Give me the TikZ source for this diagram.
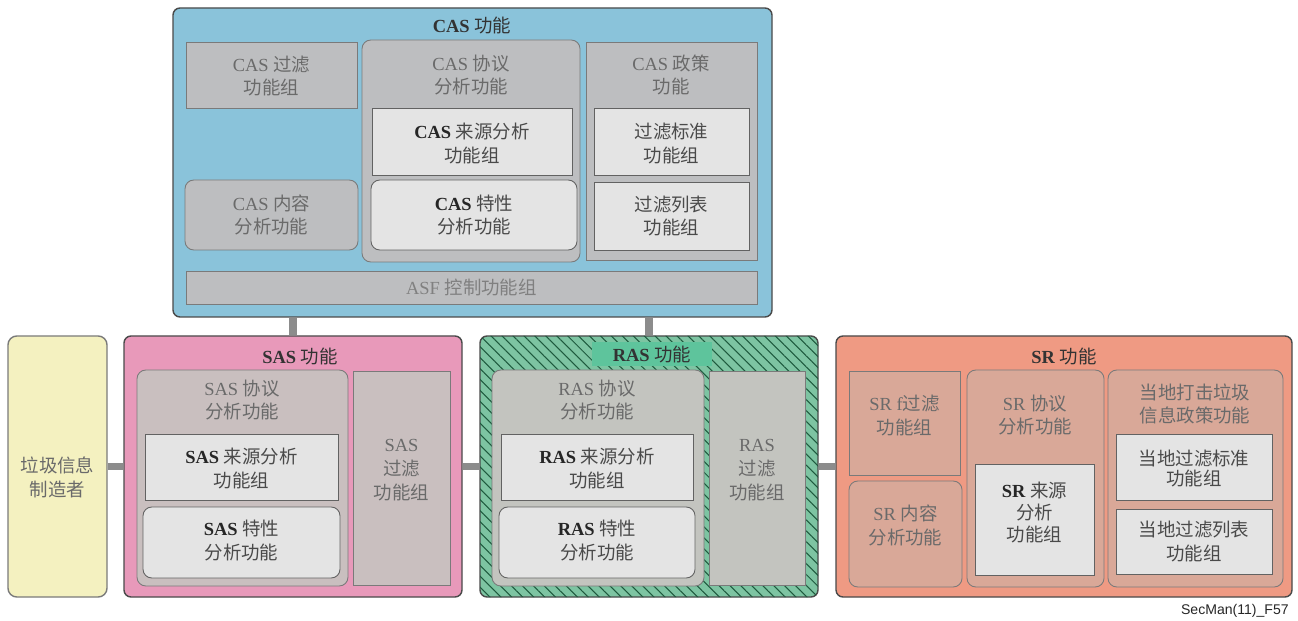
\documentclass[tikz,border=0pt]{standalone}
\usepackage{fontspec}
\setmainfont{Liberation Serif}
\newfontfamily\cjk{Noto Sans CJK SC}
\newfontfamily\tagfont{Liberation Sans}
\usetikzlibrary{fit,patterns.meta}
\definecolor{casblue}{HTML}{8AC3DA}
\definecolor{casgray}{HTML}{BDBEC0}
\definecolor{paper}{HTML}{E4E4E4}
\definecolor{saspink}{HTML}{E899BA}
\definecolor{sasgray}{HTML}{C9BFBF}
\definecolor{rasgreen}{HTML}{7DC4A2}
\definecolor{rashatch}{HTML}{1E5A3E}
\definecolor{rastitle}{HTML}{5EC49C}
\definecolor{rasgray}{HTML}{C3C4BF}
\definecolor{srsalmon}{HTML}{EF9A83}
\definecolor{srgray}{HTML}{D9A898}
\definecolor{spamyellow}{HTML}{F4F1C0}
\definecolor{edgegray}{HTML}{7A7A7A}
\definecolor{framegray}{HTML}{4A4A4A}
\definecolor{linkgray}{HTML}{8C8C8C}
\definecolor{txtgray}{HTML}{6A6A6A}
\definecolor{txtdark}{HTML}{4A4A4A}
\newcommand{\zh}[1]{{\cjk #1}}
\newcommand{\bl}[1]{\textbf{\color{black!85}#1}}

\begin{document}
\begin{tikzpicture}[
  x=0.02cm, y=-0.02cm,
  font=\fontsize{10.5}{13.6}\selectfont,
  outer/.style={draw=framegray, line width=0.8pt, rounded corners=4pt, inner sep=0pt},
  graybox/.style={draw=edgegray, line width=0.5pt, inner sep=0pt},
  paperbox/.style={graybox, fill=paper, draw=edgegray!80!black},
  soft/.style={rounded corners=5pt},
  inbox/.style={inner sep=0pt, align=center, text=txtgray},
  inpaper/.style={inbox, text=txtdark},
  title/.style={inner sep=1pt, text=black!80},
  caption/.style={inner sep=1pt, align=center, text=txtgray},
  link/.style={draw=linkgray, line width=4pt},
]
\useasboundingbox (0,0) rectangle (1298,621);

% CAS
\node[outer, fill=casblue, fit={(173,8) (772,317)}] (cas) {};
\node[title] (castitle) at (472,25) {\textbf{CAS} \zh{功能}};
\node[graybox, fill=casgray, fit={(186,42) (357,108)},
      label={[inbox, yshift=-0.6pt]center:{CAS \zh{过滤}\\\zh{功能组}}}] (casfilter) {};
\node[graybox, soft, fill=casgray, fit={(185,180) (358,250)},
      label={[inbox]center:{CAS \zh{内容}\\\zh{分析功能}}}] (cascontent) {};
\node[graybox, soft, fill=casgray, fit={(362,40) (580,262)}] (casproto) {};
\node[caption] (casprotot) at (471,75) {CAS \zh{协议}\\\zh{分析功能}};
\node[paperbox, fit={(372,108) (572,175)},
      label={[inpaper, yshift=-1pt]center:{\bl{CAS} \zh{来源分析}\\\zh{功能组}}}] (cassrc) {};
\node[paperbox, soft, fit={(371,180) (577,250)},
      label={[inpaper]center:{\bl{CAS} \zh{特性}\\\zh{分析功能}}}] (casfeat) {};
\node[graybox, fill=casgray, fit={(586,42) (757,260)}] (caspolicy) {};
\node[caption] (caspolicyt) at (671,75) {CAS \zh{政策}\\\zh{功能}};
\node[paperbox, fit={(594,108) (749,175)},
      label={[inpaper, yshift=-1pt]center:{\zh{过滤标准}\\\zh{功能组}}}] (casstd) {};
\node[paperbox, fit={(594,182) (749,250)},
      label={[inpaper]center:{\zh{过滤列表}\\\zh{功能组}}}] (caslist) {};
\node[graybox, fill=casgray, fit={(186,271) (757,304)},
      label={[inbox, text=txtgray!85]center:{ASF \zh{控制功能组}}}] (asf) {};

% spammer
\node[outer, soft, fill=spamyellow, draw=edgegray, fit={(8,336) (107,597)},
      label={[inbox, yshift=-6pt]center:{\zh{垃圾信息}\\\zh{制造者}}}] (spam) {};

% SAS
\node[outer, fill=saspink, fit={(124,336) (462,597)}] (sas) {};
\node[title] (sastitle) at (300,356) {\textbf{SAS} \zh{功能}};
\node[graybox, soft, fill=sasgray, fit={(137,370) (348,586)}] (sasproto) {};
\node[caption] (sasprotot) at (242,400) {SAS \zh{协议}\\\zh{分析功能}};
\node[paperbox, fit={(145,434) (338,500)},
      label={[inpaper, yshift=-1pt]center:{\bl{SAS} \zh{来源分析}\\\zh{功能组}}}] (sassrc) {};
\node[paperbox, soft, fit={(143,507) (340,578)},
      label={[inpaper, yshift=1pt]center:{\bl{SAS} \zh{特性}\\\zh{分析功能}}}] (sasfeat) {};
\node[graybox, fill=sasgray, fit={(353,371) (450,585)},
      label={[inbox, yshift=4.5pt]center:{SAS\\\zh{过滤}\\\zh{功能组}}}] (sasfilter) {};

% RAS
\node[outer, fill=rasgreen, postaction={pattern={Lines[angle=-45, distance=4.4pt, line width=0.6pt]}, pattern color=rashatch},
      fit={(480,336) (818,597)}] (ras) {};
\node[fill=rastitle, inner sep=0pt, fit={(592,342) (712,366)}] (rasband) {};
\node[title] (rastitle) at (652,354) {\textbf{RAS} \zh{功能}};
\node[graybox, soft, fill=rasgray, fit={(492,370) (704,586)}] (rasproto) {};
\node[caption] (rasprotot) at (597,400) {RAS \zh{协议}\\\zh{分析功能}};
\node[paperbox, fit={(501,434) (693,500)},
      label={[inpaper, yshift=-1pt]center:{\bl{RAS} \zh{来源分析}\\\zh{功能组}}}] (rassrc) {};
\node[paperbox, soft, fit={(499,507) (695,578)},
      label={[inpaper, yshift=1pt]center:{\bl{RAS} \zh{特性}\\\zh{分析功能}}}] (rasfeat) {};
\node[graybox, fill=rasgray, fit={(709,371) (805,585)},
      label={[inbox, yshift=4.5pt]center:{RAS\\\zh{过滤}\\\zh{功能组}}}] (rasfilter) {};

% SR
\node[outer, fill=srsalmon, fit={(836,336) (1292,597)}] (sr) {};
\node[title] (srtitle) at (1064,356) {\textbf{SR} \zh{功能}};
\node[graybox, fill=srgray, fit={(849,371) (960,475)},
      label={[inbox, yshift=4.5pt]center:{SR f\zh{过滤}\\\zh{功能组}}}] (srfilter) {};
\node[graybox, soft, fill=srgray, fit={(849,481) (962,587)},
      label={[inbox, yshift=5pt]center:{SR \zh{内容}\\\zh{分析功能}}}] (srcontent) {};
\node[graybox, soft, fill=srgray, fit={(967,370) (1104,587)}] (srproto) {};
\node[caption] (srprotot) at (1035,415) {SR \zh{协议}\\\zh{分析功能}};
\node[paperbox, fit={(975,464) (1094,575)},
      label={[inpaper, yshift=4pt, font=\fontsize{10.5}{12.5}\selectfont]center:{\bl{SR} \zh{来源}\\\zh{分析}\\\zh{功能组}}}] (srsrc) {};
\node[graybox, soft, fill=srgray, fit={(1108,370) (1283,587)}] (localpolicy) {};
\node[caption] (localpolicyt) at (1195,404) {\zh{当地打击垃圾}\\\zh{信息政策功能}};
\node[paperbox, fit={(1116,434) (1272,500)},
      label={[inpaper, yshift=-1pt, font=\fontsize{10.5}{11.5}\selectfont]center:{\zh{当地过滤标准}\\\zh{功能组}}}] (localstd) {};
\node[paperbox, fit={(1116,509) (1272,574)},
      label={[inpaper]center:{\zh{当地过滤列表}\\\zh{功能组}}}] (locallist) {};

% connectors
\draw[link] (sas.north) -- (sas.north |- cas.south);
\draw[link] (ras.north) -- (ras.north |- cas.south);
\draw[link] (spam.east) -- (sas.west);
\draw[link] (sas.east) -- (ras.west);
\draw[link] (ras.east) -- (sr.west);

\node[anchor=east, inner sep=0pt, font=\tagfont\fontsize{8}{10}\selectfont, text=black!85] (figtag) at (1289,611) {SecMan(11)\_F57};
\end{tikzpicture}
\end{document}
